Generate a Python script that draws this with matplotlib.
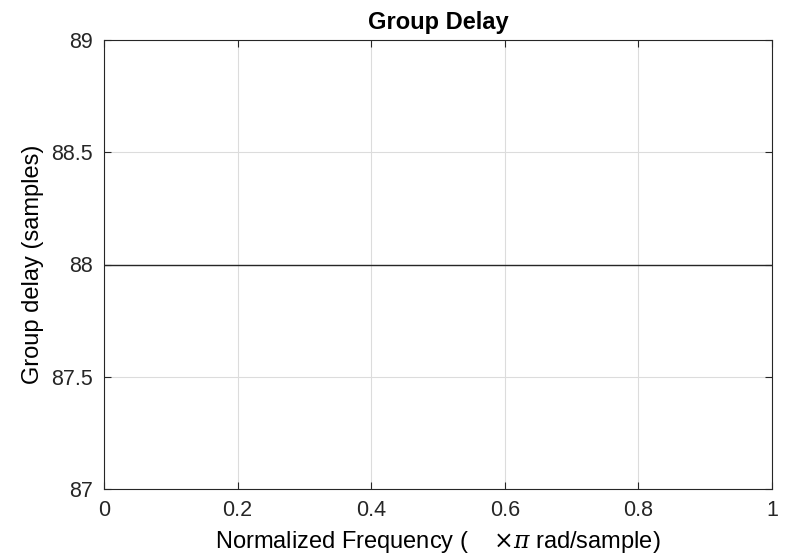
import matplotlib
matplotlib.use('Agg')
import matplotlib.pyplot as plt

# Group delay of a linear-phase filter: constant over frequency
freq = [0.0, 0.25, 0.5, 0.75, 1.0]
delay = [88, 88, 88, 88, 88]
xticks = [0, 0.2, 0.4, 0.6, 0.8, 1]
xticklabels = ['0', '0.2', '0.4', '0.6', '0.8', '1']
yticks = [87, 87.5, 88, 88.5, 89]
yticklabels = ['87', '87.5', '88', '88.5', '89']

plt.rcParams['font.family'] = ['Liberation Sans', 'DejaVu Sans']
plt.rcParams['mathtext.fontset'] = 'dejavuserif'

fig = plt.figure(figsize=(7.85, 5.58), dpi=100)
ax = fig.add_axes([104 / 785, 1 - 489 / 558, 668 / 785, 449 / 558])

ax.plot(freq, delay, color='#262626', linewidth=1.0)

ax.set_xlim(0, 1)
ax.set_ylim(87, 89)
ax.set_xticks(xticks)
ax.set_xticklabels(xticklabels)
ax.set_yticks(yticks)
ax.set_yticklabels(yticklabels)
ax.tick_params(direction='in', length=5, width=0.8, labelsize=15.5, colors='#262626',
               top=True, right=True, pad=8)
ax.grid(True, color='#dcdcdc', linewidth=0.8)
ax.set_axisbelow(True)
for s in ax.spines.values():
    s.set_color('#262626')
    s.set_linewidth(0.8)

ax.set_title('Group Delay', fontsize=17, fontweight='bold', pad=8)
ax.set_xlabel(r'Normalized Frequency (    $\times\pi$ rad/sample)', fontsize=17, labelpad=6)
ax.set_ylabel('Group delay (samples)', fontsize=17, labelpad=5)

fig.savefig('out.png', dpi=100)
